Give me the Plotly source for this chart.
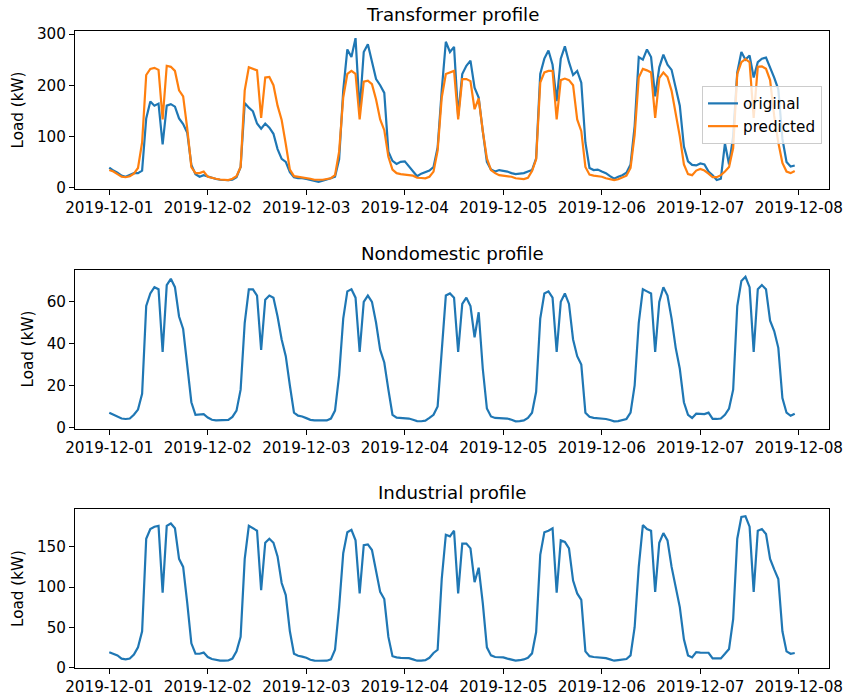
import pandas as pd
import plotly.graph_objects as go
from plotly.subplots import make_subplots

# Hourly timestamps for one week
timestamps = pd.date_range("2019-12-01 00:00", periods=168, freq="h")

# Transformer load (kW): measured
transformer_original = [
    39, 33, 29, 23, 21, 25, 28, 28, 33, 135, 168, 160, 164, 84, 160, 163, 158, 135, 124, 107, 44, 26, 21, 24,
    21, 19, 16.5, 15, 14.5, 14.5, 15, 20, 40, 165, 156, 149, 125, 115, 125, 117, 105, 75, 56, 50, 30, 20, 18, 18,
    16.5, 14.5, 12, 11, 13, 15, 18, 21, 55, 190, 270, 255, 292, 150, 265, 280, 245, 212, 200, 185, 70, 52, 46, 50,
    51, 42, 31, 22, 27, 30, 33, 40, 78, 190, 285, 265, 275, 140, 222, 238, 248, 195, 176, 110, 50, 35, 31, 34,
    33, 31, 28, 26, 27, 28, 31, 34, 57, 222, 252, 268, 240, 169, 252, 276, 245, 220, 228, 205, 88, 38, 34, 35,
    31, 28, 22, 17, 21, 24, 29, 45, 120, 255, 250, 270, 255, 178, 235, 260, 240, 230, 195, 160, 80, 51, 44, 43,
    47, 45, 31, 24, 14.5, 17, 86, 45, 100, 225, 265, 250, 258, 215, 245, 252, 254, 235, 215, 192, 95, 50, 41, 43,
]

# Transformer load (kW): model prediction
transformer_predicted = [
    34, 31, 26, 21, 20, 22, 27, 38, 88, 220, 232, 234, 230, 133, 238, 236, 228, 190, 178, 115, 40, 28, 28, 31,
    21, 18.5, 17, 15.5, 14.5, 14.5, 17, 22, 40, 190, 235, 232, 229, 136, 215, 216, 200, 160, 132, 85, 35, 22, 21, 20,
    19, 17, 15, 14.5, 15, 16.5, 18, 24, 70, 176, 222, 228, 222, 133, 207, 209, 202, 172, 133, 112, 60, 35, 28, 26,
    25.7, 24, 23, 19, 18.5, 17.8, 21, 31, 72, 176, 222, 225, 228, 133, 212, 212, 208, 153, 174, 110, 57, 34, 28, 24,
    23, 22, 21, 18, 17, 16.5, 19, 32, 55, 205, 225, 228, 228, 133, 210, 213, 210, 200, 133, 110, 40, 25, 23, 22,
    21, 18, 16.5, 14.5, 16, 20, 23, 38, 103, 215, 232, 229, 225, 136, 214, 225, 216, 189, 145, 100, 45, 26, 24, 33,
    36, 33, 27, 20, 20, 24, 31, 40, 77, 222, 245, 251, 245, 136, 236, 237, 232, 210, 140, 88, 48, 31, 28, 32,
]

# Nondomestic load (kW)
nondomestic = [
    7.0, 6.0, 5.2, 4.2, 4.0, 4.2, 6.0, 8.5, 16, 58, 64, 67, 66, 36, 68, 71, 67, 53, 47, 30, 12, 6, 6, 6.3,
    4.7, 3.6, 3.3, 3.3, 3.3, 3.6, 5, 8, 18, 50, 66, 66, 63, 37, 61, 63, 62, 53, 42, 34, 20, 7, 5.6, 5.2,
    4.4, 3.6, 3.3, 3.2, 3.2, 3.3, 4.2, 8, 25, 52, 65, 66, 62, 36, 60, 63, 60, 50, 37, 31, 18, 6, 4.6, 4.4,
    4.4, 4.2, 3.6, 3.0, 2.9, 3.2, 4.5, 6, 10, 38, 63, 64, 62, 36, 59, 62, 58, 43, 55, 28, 9, 5.2, 4.5, 4.4,
    4.4, 4.2, 3.6, 2.9, 3.0, 3.3, 4.5, 7, 17, 52, 64, 65, 62, 36, 60, 64, 59, 42, 34, 30, 7, 5, 4.5, 4.4,
    4.4, 4.0, 3.5, 2.9, 3.0, 3.4, 4.0, 7, 20, 50, 66, 65, 64, 36, 60, 67, 63, 52, 38, 28, 12, 6, 4.5, 6.5,
    6.5, 6.3, 7.0, 4.0, 4.0, 4.2, 6.0, 9, 18, 58, 70, 72, 67, 36, 66, 68, 66, 51, 46, 38, 14, 7, 5.5, 6.5,
]

# Industrial load (kW)
industrial = [
    19, 17, 15, 11, 10, 11, 16, 25, 45, 160, 172, 175, 176, 93, 176, 179, 173, 135, 125, 80, 30, 17, 17, 18.5,
    13, 10.5, 9, 8.4, 8.4, 8.6, 11, 20, 38, 135, 176, 173, 170, 96, 155, 160, 155, 138, 105, 90, 45, 17, 14.5, 13.5,
    12, 9.5, 8.4, 8.3, 8.3, 8.4, 10, 22, 75, 142, 168, 171, 158, 92, 152, 153, 146, 122, 94, 85, 38, 14, 12.5, 12,
    12, 11.5, 10, 8.4, 8.4, 9, 12, 18, 22, 110, 165, 163, 170, 92, 154, 154, 148, 106, 124, 80, 25, 15, 13, 12.5,
    12.5, 11, 9.5, 8.4, 9, 10, 12, 17.5, 44, 140, 168, 170, 173, 93, 158, 156, 148, 108, 92, 84, 20, 14, 13, 12.5,
    12.5, 11.5, 10, 8.4, 9, 10, 10.4, 15, 50, 125, 177, 172, 170, 94, 155, 167, 158, 125, 100, 75, 35, 15, 12.5, 19,
    18.5, 18.3, 18.3, 11.3, 11.3, 11.3, 17, 23, 60, 160, 187, 188, 175, 94, 170, 172, 166, 135, 122, 110, 45, 20, 17, 18,
]

panel_titles = ["Transformer profile", "Nondomestic profile", "Industrial profile"]
day_ticks = pd.date_range("2019-12-01", "2019-12-08", freq="D")

BLUE = "#1f77b4"
ORANGE = "#ff7f0e"
FONT = "DejaVu Sans"
TICK_SIZE = 15.2
TITLE_SIZE = 18.2
W, H = 845, 698
ML, MR, MT, MB = 75, 16, 31, 30

fig = make_subplots(rows=3, cols=1)

line_w = 2.2
fig.add_trace(go.Scatter(x=timestamps, y=transformer_original, mode="lines", name="original",
                         line=dict(color=BLUE, width=line_w)), row=1, col=1)
fig.add_trace(go.Scatter(x=timestamps, y=transformer_predicted, mode="lines", name="predicted",
                         line=dict(color=ORANGE, width=line_w)), row=1, col=1)
fig.add_trace(go.Scatter(x=timestamps, y=nondomestic, mode="lines", showlegend=False,
                         line=dict(color=BLUE, width=line_w)), row=2, col=1)
fig.add_trace(go.Scatter(x=timestamps, y=industrial, mode="lines", showlegend=False,
                         line=dict(color=BLUE, width=line_w)), row=3, col=1)


def padded(values, frac=0.05):
    lo, hi = min(values), max(values)
    pad = (hi - lo) * frac
    return [lo - pad, hi + pad]


x_pad = (timestamps[-1] - timestamps[0]) * 0.05
x_range = [timestamps[0] - x_pad, timestamps[-1] + x_pad]

# Panel placement in pixels (top, bottom) converted to paper fractions
plot_h = H - MT - MB
panels_px = [(31, 189), (269.5, 428.5), (509, 668)]
domains = [[(H - MB - b) / plot_h, (H - MB - t) / plot_h] for t, b in panels_px]

y_ranges = [padded(transformer_original + transformer_predicted), padded(nondomestic), padded(industrial)]
y_dticks = [100, 20, 50]

axis_common = dict(showline=True, linecolor="black", linewidth=1, mirror=True,
                   ticks="outside", ticklen=5, tickwidth=1, tickcolor="black",
                   showgrid=False, zeroline=False, automargin=False,
                   tickfont=dict(family=FONT, size=TICK_SIZE, color="black"))

for i in range(3):
    xa = "xaxis" if i == 0 else f"xaxis{i + 1}"
    ya = "yaxis" if i == 0 else f"yaxis{i + 1}"
    fig.layout[xa].update(range=x_range, tickvals=day_ticks, tickformat="%Y-%m-%d", **axis_common)
    fig.layout[ya].update(domain=domains[i], range=y_ranges[i], dtick=y_dticks[i],
                          title=dict(text="Load (kW)", font=dict(family=FONT, size=TICK_SIZE, color="black"),
                                     standoff=9),
                          **axis_common)
    fig.add_annotation(text=panel_titles[i], xref="paper", yref="paper", x=0.5, y=domains[i][1],
                       xanchor="center", yanchor="bottom", yshift=4, showarrow=False,
                       font=dict(family=FONT, size=TITLE_SIZE, color="black"))

legend_right_px, legend_top_px = 822, 86
fig.update_layout(
    width=W, height=H,
    margin=dict(l=ML, r=MR, t=MT, b=MB, autoexpand=False),
    paper_bgcolor="white", plot_bgcolor="white",
    font=dict(family=FONT, color="black"),
    showlegend=True,
    legend=dict(x=(legend_right_px - ML) / (W - ML - MR), y=(H - MB - legend_top_px) / plot_h,
                xanchor="right", yanchor="top",
                bgcolor="rgba(255,255,255,0.8)", bordercolor="#cccccc", borderwidth=1,
                font=dict(family=FONT, size=TICK_SIZE, color="black"), itemwidth=30,
                tracegroupgap=0),
)

fig.write_html("out.html")
